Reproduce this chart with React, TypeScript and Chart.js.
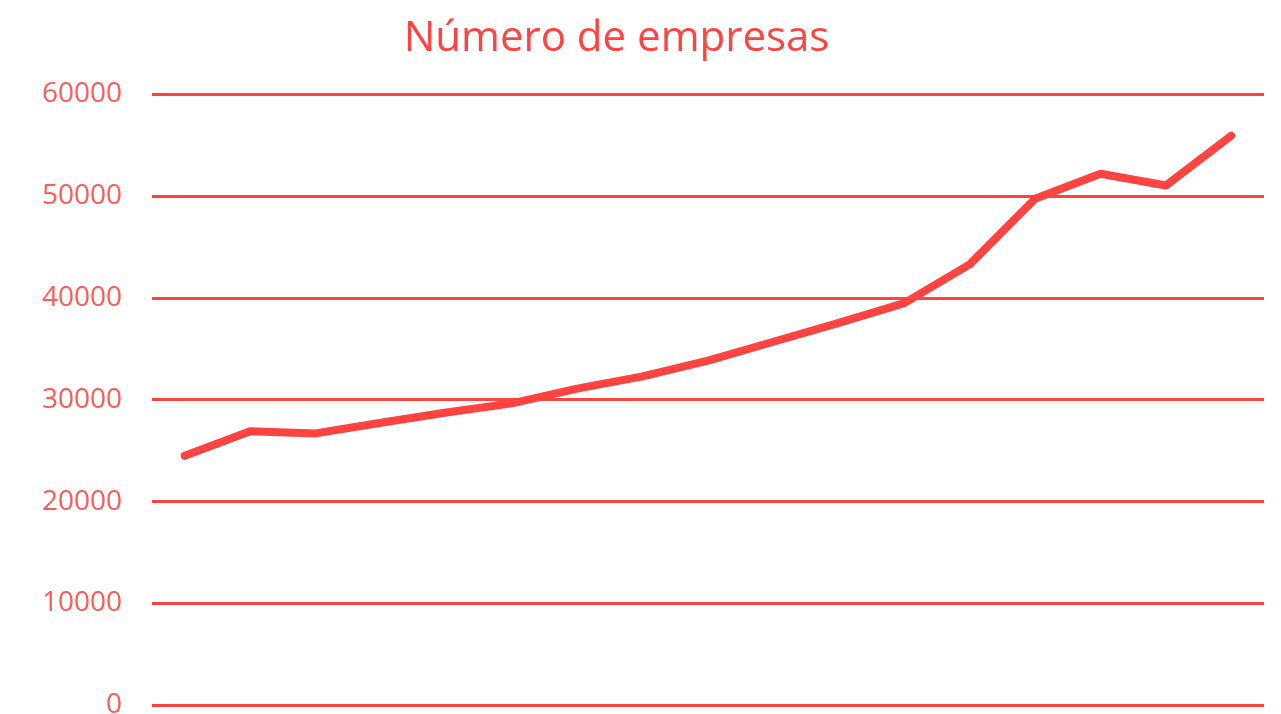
import React, { useEffect, useRef } from "react";
import { Chart, registerables } from "chart.js";

Chart.register(...registerables);

const TITLE = "Número de empresas";
const CATEGORIES = [
  "2002", "2003", "2004", "2005", "2006", "2007", "2008", "2009", "2010",
  "2011", "2012", "2013", "2014", "2015", "2016", "2017", "2018",
];
const EMPRESAS = [
  24500, 26900, 26700, 27750, 28750, 29650, 31100, 32300, 33850,
  35700, 37550, 39500, 43300, 49750, 52200, 51050, 55950,
];
const Y_TICKS = [0, 10000, 20000, 30000, 40000, 50000, 60000];

const RED = "#FF4340";
const TICK_RED = "#FF5A55";

export default function App() {
  const ref = useRef<HTMLCanvasElement | null>(null);

  useEffect(() => {
    if (!ref.current) return;
    const chart = new Chart(ref.current, {
      type: "line",
      data: {
        labels: CATEGORIES,
        datasets: [
          {
            label: TITLE,
            data: EMPRESAS,
            borderColor: RED,
            backgroundColor: RED,
            borderWidth: 8,
            borderCapStyle: "round",
            borderJoinStyle: "round",
            pointRadius: 0,
            pointHoverRadius: 0,
            tension: 0,
            fill: false,
          },
        ],
      },
      options: {
        animation: false,
        responsive: false,
        maintainAspectRatio: false,
        layout: { padding: { left: 0, right: 1, top: 0, bottom: 0 } },
        plugins: {
          legend: { display: false },
          tooltip: { enabled: false },
          title: {
            display: true,
            text: TITLE,
            color: RED,
            font: { family: "'Open Sans', sans-serif", size: 42, weight: "normal" },
            padding: { top: 14, bottom: 30 },
          },
        },
        scales: {
          x: {
            type: "category",
            offset: true,
            display: false,
          },
          y: {
            min: Y_TICKS[0],
            max: Y_TICKS[Y_TICKS.length - 1],
            afterFit: (s: any) => {
              s.width = 183;
            },
            afterBuildTicks: (s: any) => {
              s.ticks = Y_TICKS.map((v) => ({ value: v }));
            },
            border: { display: false },
            grid: {
              color: RED,
              lineWidth: 3,
              drawTicks: false,
            },
            ticks: {
              color: TICK_RED,
              padding: 30,
              font: { family: "'Open Sans', sans-serif", size: 28 },
              callback: (v: any) => String(v),
            },
          },
        },
      },
    });
    return () => chart.destroy();
  }, []);

  return (
    <div
      style={{
        position: "absolute",
        left: 0,
        top: 0,
        width: 1281,
        height: 714,
        overflow: "hidden",
        background: "#fff",
      }}
    >
      <div style={{ position: "absolute", left: -31, top: 0, width: 1296, height: 752 }}>
        <canvas ref={ref} width={1296} height={752} style={{ display: "block" }} />
      </div>
    </div>
  );
}
